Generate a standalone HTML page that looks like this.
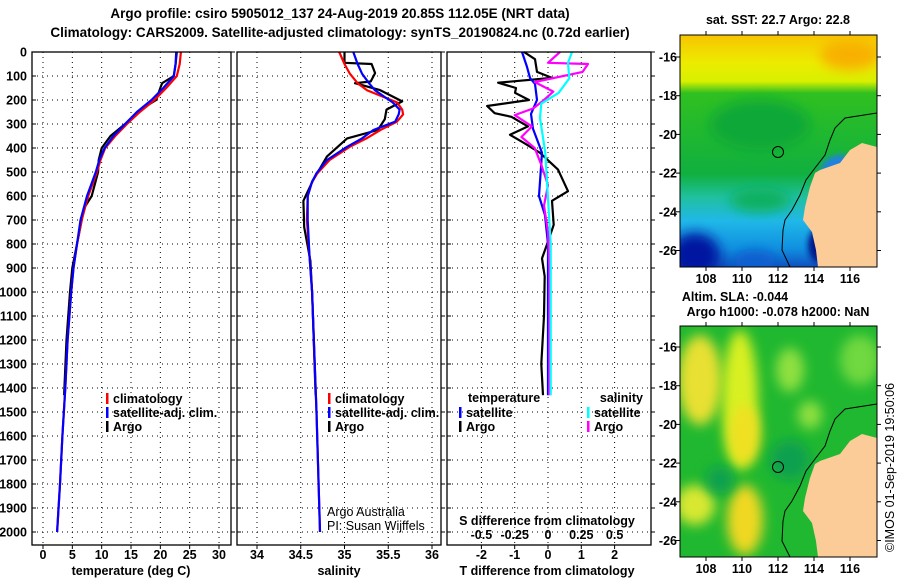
<!DOCTYPE html>
<html><head><meta charset="utf-8"><style>
body{margin:0;background:#fff;}
svg{display:block;font-family:"Liberation Sans",Arial,sans-serif;font-weight:bold;}
text{font-size:12.5px;fill:#000;}
</style></head><body>
<svg id="c" width="900" height="580" viewBox="0 0 900 580">
<defs>
<clipPath id="m1"><rect x="680" y="35" width="197" height="232"/></clipPath>
<clipPath id="m2"><rect x="680" y="326" width="197" height="231"/></clipPath>
<filter id="bl" x="-50%" y="-50%" width="200%" height="200%"><feGaussianBlur stdDeviation="6"/></filter>
<filter id="bl2" x="-50%" y="-50%" width="200%" height="200%"><feGaussianBlur stdDeviation="3"/></filter>
<linearGradient id="sst" x1="0" y1="0" x2="0" y2="1">
<stop offset="0" stop-color="#f8c400"/><stop offset="0.12" stop-color="#ecec00"/><stop offset="0.2" stop-color="#d8f000"/>
<stop offset="0.25" stop-color="#30c020"/><stop offset="0.6" stop-color="#10b040"/><stop offset="0.7" stop-color="#20c0a0"/>
<stop offset="0.8" stop-color="#20b8e8"/><stop offset="0.92" stop-color="#1090e0"/><stop offset="1" stop-color="#1050c0"/>
</linearGradient>
</defs>
<g>
<text x="340" y="18" text-anchor="middle" style="font-size:13.5px">Argo profile: csiro 5905012_137 24-Aug-2019 20.85S 112.05E (NRT data)</text>
<text x="340" y="37" text-anchor="middle" style="font-size:13.5px">Climatology: CARS2009. Satellite-adjusted climatology: synTS_20190824.nc (0.72d earlier)</text>
</g>
<g id="panels"></g>
<g>
<text x="778" y="24" text-anchor="middle">sat. SST: 22.7 Argo: 22.8</text>
<g clip-path="url(#m1)">
<rect x="680" y="35" width="197" height="232" fill="url(#sst)"/>
<ellipse cx="695" cy="255" rx="25" ry="22" fill="#0018a0" filter="url(#bl)"/>
<ellipse cx="755" cy="262" rx="20" ry="12" fill="#1060d0" filter="url(#bl)"/>
<ellipse cx="820" cy="245" rx="12" ry="18" fill="#001888" filter="url(#bl2)"/>
<ellipse cx="760" cy="200" rx="30" ry="12" fill="#10b060" filter="url(#bl)"/>
<ellipse cx="850" cy="55" rx="30" ry="15" fill="#f8b000" filter="url(#bl)"/>
<ellipse cx="840" cy="175" rx="20" ry="20" fill="#2080e0" filter="url(#bl2)"/>
<ellipse cx="760" cy="125" rx="50" ry="25" fill="#10a838" filter="url(#bl)"/>
<polygon fill="#fccc98" points="877,147 862,143 850,150 840,163 820,170 815,173 810,187 805,207 803,220 812,232 816,250 818,267 877,267"/>
<polyline fill="none" stroke="#000" stroke-width="1" points="877,113 845,118 835,128 830,140 825,155 815,168 806,180 800,195 792,210 785,220 783,230 782,250 790,267"/>
<circle cx="778" cy="152" r="5.5" fill="none" stroke="#000" stroke-width="1"/>
</g>
<rect x="680" y="35" width="197" height="232" fill="none" stroke="#000"/>
</g>
<g>
<text x="735" y="301" text-anchor="middle">Altim. SLA: -0.044</text>
<text x="778" y="316" text-anchor="middle">Argo h1000: -0.078 h2000: NaN</text>
<g clip-path="url(#m2)">
<rect x="680" y="326" width="197" height="231" fill="#20b830"/>
<ellipse cx="700" cy="380" rx="22" ry="45" fill="#e8e030" filter="url(#bl)"/>
<ellipse cx="740" cy="400" rx="18" ry="70" fill="#d8f020" filter="url(#bl)"/>
<ellipse cx="745" cy="435" rx="15" ry="30" fill="#f0e020" filter="url(#bl)"/>
<ellipse cx="745" cy="520" rx="18" ry="35" fill="#f0d820" filter="url(#bl)"/>
<ellipse cx="695" cy="505" rx="20" ry="20" fill="#d8e830" filter="url(#bl)"/>
<ellipse cx="790" cy="370" rx="14" ry="22" fill="#90e040" filter="url(#bl)"/>
<ellipse cx="810" cy="415" rx="12" ry="14" fill="#90e040" filter="url(#bl)"/>
<ellipse cx="860" cy="360" rx="20" ry="25" fill="#70d840" filter="url(#bl)"/>
<ellipse cx="790" cy="460" rx="20" ry="20" fill="#10a050" filter="url(#bl)"/>
<ellipse cx="720" cy="480" rx="14" ry="14" fill="#10a050" filter="url(#bl)"/>
<polygon fill="#fccc98" points="877,438 862,434 850,441 840,454 820,461 815,464 810,478 805,498 803,511 812,523 816,541 818,557 877,557"/>
<polyline fill="none" stroke="#000" stroke-width="1" points="877,404 845,409 835,419 830,431 825,446 815,459 806,471 800,486 792,501 785,511 783,521 782,541 790,557"/>
<circle cx="778" cy="467" r="5.5" fill="none" stroke="#000" stroke-width="1"/>
</g>
<rect x="680" y="326" width="197" height="231" fill="none" stroke="#000"/>
</g>
<g id="mapaxes"></g>
<text transform="translate(894,552) rotate(-90)" style="font-weight:normal;font-size:12.5px">©IMOS 01-Sep-2019 19:50:06</text>
</svg>
<script>
// ---- data ----
const depthTicks=[0,100,200,300,400,500,600,700,800,900,1000,1100,1200,1300,1400,1500,1600,1700,1800,1900,2000];
const climDepth=[0,50,100,150,200,250,300,350,400,450,500,600,700,800,900,1000,1200,1400,1600,1800,2000];
const tClim=[23.5,23.3,22.8,21.0,19.0,16.5,14.3,12.3,10.6,9.8,9.2,7.7,6.6,5.8,5.2,4.8,4.2,3.8,3.3,2.9,2.4];
const tSat=[22.7,22.6,22.3,20.5,18.5,16.0,14.0,12.0,10.5,9.6,9.0,7.5,6.4,5.8,5.2,4.8,4.2,3.8,3.3,2.9,2.4];
const argoTDepth=[0,50,100,130,150,200,230,250,300,350,400,450,500,600,650,700,800,900,1000,1200,1430];
const tArgo=[22.8,22.6,22.3,20.3,20.0,19.3,17.3,16.2,14.0,11.5,10.0,9.5,9.4,8.3,7.0,6.6,5.8,5.0,4.6,4.0,3.6];
const sDepth=[0,50,90,130,160,210,240,260,290,325,360,395,450,505,540,600,700,850,1000,1500,2000];
const sClim=[34.94,35.0,35.06,35.15,35.26,35.6,35.66,35.67,35.6,35.41,35.25,35.06,34.83,34.69,34.63,34.58,34.57,34.6,34.63,34.68,34.72];
const sSat=[35.1,35.15,35.2,35.28,35.35,35.55,35.63,35.62,35.58,35.33,35.2,35.03,34.8,34.68,34.63,34.58,34.58,34.6,34.63,34.68,34.72];
const argoSDepth=[0,45,50,88,123,130,158,206,240,280,325,360,435,535,620,730,870,1000,1430];
const sArgo=[35.0,35.0,35.31,35.35,35.3,35.12,35.4,35.66,35.48,35.46,35.38,35.03,34.8,34.64,34.53,34.54,34.61,34.63,34.67];
const dTSatDepth=[0,62,108,133,200,258,320,420,600,680,800,1000,1430];
const dTSat=[-0.78,-0.63,-0.54,-0.39,-0.33,-0.51,-0.45,-0.18,-0.27,-0.09,0,0,0];
const dTArgoDepth=[0,30,83,108,128,150,170,200,225,255,270,310,345,380,420,490,580,620,720,790,860,935,1100,1300,1430];
const dTArgo=[-0.72,-0.39,-0.33,0.12,-1.5,-0.96,-0.99,-0.57,-1.83,-1.6,-1.1,-0.6,-1.14,-0.71,-0.24,0.3,0.6,0.12,0.17,0,-0.18,-0.1,-0.12,-0.2,-0.15];
const dSSatDepth=[0,45,110,170,215,275,420,610,800,1200,1430];
const dSSat=[0.18,0.15,0.16,0.08,-0.05,-0.06,-0.02,0,0.02,0.02,0.02];
const dSArgoDepth=[0,45,50,83,125,165,200,235,263,310,354,400,470,555,640,750,900,1300,1430];
const dSArgo=[0.09,0,0.3,0.26,-0.1,0.04,-0.03,-0.11,-0.25,-0.12,-0.2,-0.1,-0.05,0,-0.03,0,0.01,0.01,0.01];
const tTicks=[0,5,10,15,20,25,30];
const sTicks=[34,34.5,35,35.5,36];
const dTTicks=[-2,-1,0,1,2];
const dSTicks=[-0.5,-0.25,0,0.25,0.5];
const lonTicks=[108,110,112,114,116];
const latTicks=[-16,-18,-20,-22,-24,-26];

const NS='http://www.w3.org/2000/svg';
const g=document.getElementById('panels');
function el(tag,attrs,parent,txt){const e=document.createElementNS(NS,tag);for(const k in attrs)e.setAttribute(k,attrs[k]);if(txt!==undefined)e.textContent=txt;(parent||g).appendChild(e);return e;}
const TOP=52,BOT=545;
const yD=d=>TOP+d*0.24;
const xT=v=>43+v*5.867;
const xS=v=>257+(v-34)*87.5;
const xDT=v=>548+v*33.3;
const xDS=v=>548+v*133.2;
const panels=[[32,231],[237,441],[447,651]];

function frame(i,xticks,xf,name){
  const [l,r]=panels[i];
  const pg=el('g',{});
  
  
  el('rect',{x:l,y:TOP,width:r-l,height:BOT-TOP,fill:'#fff'},pg);
  depthTicks.forEach(d=>{
    const y=yD(d);
    if(d>0) el('line',{x1:l,x2:r,y1:y,y2:y,stroke:'#000','stroke-dasharray':'1,4'},pg);
    el('line',{x1:l,x2:l+4,y1:y,y2:y,stroke:'#000'},pg);
    el('line',{x1:r,x2:r+4,y1:y,y2:y,stroke:'#000'},pg);
  });
  xticks.forEach(v=>{
    const x=xf(v);
    el('line',{x1:x,x2:x,y1:TOP,y2:BOT,stroke:'#000','stroke-dasharray':'1,4'},pg);
    el('line',{x1:x,x2:x,y1:BOT,y2:BOT+4,stroke:'#000'},pg);
  });
  return pg;
}
function line(xs,ds,xf,color,name,parent){
  const pts=xs.map((v,i)=>xf(v).toFixed(1)+','+yD(ds[i]).toFixed(1)).join(' ');
  const p=el('polyline',{points:pts,fill:'none',stroke:color,'stroke-width':2.2,'stroke-linejoin':'round'},parent);
  
  
}
function border(i,pg){const [l,r]=panels[i];el('rect',{x:l,y:TOP,width:r-l,height:BOT-TOP,fill:'none',stroke:'#000','stroke-width':1.3},pg);}
function legendEntry(pg,x,y,color,label,name){
  const e=el('g',{},pg);
  
  
  el('rect',{x:x,y:y-10,width:2.5,height:11,fill:color},e);
  el('text',{x:x+7,y:y},e,label);
}

// Panel 1 temperature
let p1=frame(0,tTicks,xT,'temperature-panel');
line(tArgo,argoTDepth,xT,'#000','temperature-argo-line',p1);
line(tClim,climDepth,xT,'#f00','temperature-climatology-line',p1);
line(tSat,climDepth,xT,'#00f','temperature-satellite-line',p1);
border(0,p1);
depthTicks.forEach(d=>{const t=el('text',{x:27,y:yD(d)+4.5,'text-anchor':'end'},p1,String(d));});
tTicks.forEach(v=>{const t=el('text',{x:xT(v),y:559,'text-anchor':'middle'},p1,String(v));});
el('text',{x:xT(15),y:575,'text-anchor':'middle'},p1,'temperature (deg C)');
legendEntry(p1,106,403,'#f00','climatology','legend-climatology');
legendEntry(p1,106,417,'#00f','satellite-adj. clim.','legend-satellite');
legendEntry(p1,106,431,'#000','Argo','legend-argo');

// Panel 2 salinity
let p2=frame(1,sTicks,xS,'salinity-panel');
line(sArgo,argoSDepth,xS,'#000','salinity-argo-line',p2);
line(sClim,sDepth,xS,'#f00','salinity-climatology-line',p2);
line(sSat,sDepth,xS,'#00f','salinity-satellite-line',p2);
border(1,p2);
sTicks.forEach(v=>{const t=el('text',{x:xS(v),y:559,'text-anchor':'middle'},p2,String(v));});
el('text',{x:339,y:575,'text-anchor':'middle'},p2,'salinity');
legendEntry(p2,328,403,'#f00','climatology','legend-climatology');
legendEntry(p2,328,417,'#00f','satellite-adj. clim.','legend-satellite');
legendEntry(p2,328,431,'#000','Argo','legend-argo');
el('text',{x:327,y:516,style:'font-weight:normal'},p2,'Argo Australia');
el('text',{x:327,y:530,style:'font-weight:normal'},p2,'PI: Susan Wijffels');

// Panel 3 differences
let p3=frame(2,dTTicks,xDT,'difference-panel');
line(dTArgo,dTArgoDepth,xDT,'#000','temperature-diff-argo-line',p3);
line(dTSat,dTSatDepth,xDT,'#00f','temperature-diff-satellite-line',p3);
line(dSArgo,dSArgoDepth,xDS,'#f0f','salinity-diff-argo-line',p3);
line(dSSat,dSSatDepth,xDS,'#0ff','salinity-diff-satellite-line',p3);
border(2,p3);
el('text',{x:468,y:402},p3,'temperature');
el('text',{x:643,y:402,'text-anchor':'end'},p3,'salinity');
legendEntry(p3,459,417,'#00f','satellite','legend-t-satellite');
legendEntry(p3,459,431,'#000','Argo','legend-t-argo');
legendEntry(p3,587,417,'#0ff','satellite','legend-s-satellite');
legendEntry(p3,587,431,'#f0f','Argo','legend-s-argo');
el('text',{x:547,y:525,'text-anchor':'middle'},p3,'S difference from climatology');
dSTicks.forEach(v=>{const t=el('text',{x:xDS(v),y:539,'text-anchor':'middle'},p3,String(v));});
dTTicks.forEach(v=>{const t=el('text',{x:xDT(v),y:559,'text-anchor':'middle'},p3,String(v));});
el('text',{x:547,y:575,'text-anchor':'middle'},p3,'T difference from climatology');

// map axes
const ma=document.getElementById('mapaxes');
const xLon=v=>706+(v-108)*18;
[[35,267,57],[326,557,347]].forEach(([t,b,lat16],k)=>{
  lonTicks.forEach(v=>{
    el('line',{x1:xLon(v),x2:xLon(v),y1:b,y2:b+4,stroke:'#000'},ma);
    el('line',{x1:xLon(v),x2:xLon(v),y1:t,y2:t-4,stroke:'#000'},ma);
    const tx=el('text',{x:xLon(v),y:b+16,'text-anchor':'middle'},ma,String(v));
    
    
  });
  latTicks.forEach(v=>{
    const y=lat16+(-16-v)*19.35;
    el('line',{x1:676,x2:680,y1:y,y2:y,stroke:'#000'},ma);
    el('line',{x1:877,x2:881,y1:y,y2:y,stroke:'#000'},ma);
    const tx=el('text',{x:677,y:y+4.5,'text-anchor':'end'},ma,String(v));
    
    
  });
});
</script>
</body></html>
